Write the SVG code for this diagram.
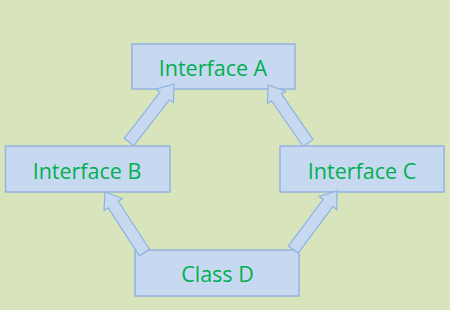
<svg xmlns="http://www.w3.org/2000/svg" width="450" height="310" viewBox="0 0 450 310">
<style>
.box{fill:#c6d9f1;stroke:#95b3e0;stroke-width:1.5}
.lbl{font-family:"Open Sans","Liberation Sans",Arial,sans-serif;font-size:21.5px;fill:#00b050;text-anchor:middle}
.arr{fill:#c6d9f1;stroke:#8db3e2;stroke-width:1.2;stroke-linejoin:miter}
</style>
<rect width="450" height="310" fill="#d8e4bc"/>
<g id="nodeA"><rect class="box" x="132" y="44" width="163" height="45"/><text class="lbl" x="213" y="76">Interface A</text></g>
<g id="nodeB"><rect class="box" x="5.5" y="146" width="164.5" height="46"/><text class="lbl" x="87" y="179">Interface B</text></g>
<g id="nodeC"><rect class="box" x="280" y="146" width="164" height="46"/><text class="lbl" x="362" y="179">Interface C</text></g>
<g id="nodeD"><rect class="box" x="135" y="250" width="164" height="46"/><text class="lbl" x="217.5" y="282">Class D</text></g>
<g id="connectors">
<polygon class="arr" transform="translate(174,84) rotate(-52.2)" points="0,0 -15,11 -15,6 -73.4,6 -73.4,-6 -15,-6 -15,-11"/>
<polygon class="arr" transform="translate(268,85) rotate(-124.6)" points="0,0 -15,11 -15,6 -70.5,6 -70.5,-6 -15,-6 -15,-11"/>
<polygon class="arr" transform="translate(105,192) rotate(-123.1)" points="0,0 -15,11 -15,6 -72.3,6 -72.3,-6 -15,-6 -15,-11"/>
<polygon class="arr" transform="translate(337,191) rotate(-53.2)" points="0,0 -15,11 -15,6 -73,6 -73,-6 -15,-6 -15,-11"/>
</g>
</svg>
